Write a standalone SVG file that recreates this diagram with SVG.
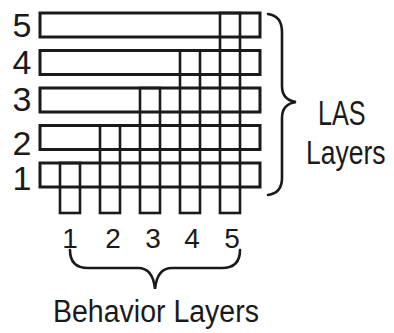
<svg xmlns="http://www.w3.org/2000/svg" width="394" height="333" viewBox="0 0 394 333">
<style>
.b{fill:none;stroke:#1a1a1a;stroke-width:3}
.v{fill:none;stroke:#1a1a1a;stroke-width:2.6}
.br{fill:none;stroke:#1a1a1a;stroke-width:2.6;stroke-linecap:round}
text{font-family:"Liberation Sans",Arial,sans-serif;fill:#1a1a1a}
.d{font-size:34px;text-anchor:middle}
.bd{font-size:28px;text-anchor:middle}
</style>
<rect width="394" height="333" fill="#fff"/>
<g id="las-layers">
<rect class="b" x="40" y="13" width="220" height="24"/>
<rect class="b" x="40" y="50.5" width="220" height="24"/>
<rect class="b" x="40" y="88" width="220" height="24"/>
<rect class="b" x="40" y="125.5" width="220" height="24"/>
<rect class="b" x="40" y="163" width="220" height="24"/>
</g>
<g id="behavior-layers">
<rect class="v" x="60" y="163" width="20" height="50"/>
<rect class="v" x="100" y="125.5" width="20" height="87.5"/>
<rect class="v" x="140" y="88" width="20" height="125"/>
<rect class="v" x="180" y="50.5" width="20" height="162.5"/>
<rect class="v" x="220" y="13" width="20" height="200"/>
</g>
<g id="left-labels">
<text class="d" x="22" y="37">5</text>
<text class="d" x="22" y="74">4</text>
<text class="d" x="22" y="111">3</text>
<text class="d" x="22" y="155">2</text>
<text class="d" x="22" y="190">1</text>
</g>
<g id="bottom-labels">
<text class="bd" x="70" y="248">1</text>
<text class="bd" x="113" y="248">2</text>
<text class="bd" x="153" y="248">3</text>
<text class="bd" x="192" y="248">4</text>
<text class="bd" x="232" y="248">5</text>
</g>
<g id="connectors">
<path class="br" d="M268,14 Q282,16 282,32 L282,86 Q282,100 296,102 Q282,104 282,118 L282,178 Q282,193 268,195"/>
<path class="br" d="M70,250 Q70,268 88,268 L138,268 Q153,268 155,289 Q157,268 172,268 L222,268 Q240,268 240,250"/>
</g>
<g id="las-label">
<text transform="translate(318,125) scale(0.72,1)" font-size="35">LAS</text>
<text transform="translate(306,164) scale(0.78,1)" font-size="34">Layers</text>
</g>
<g id="behavior-label">
<text transform="translate(53,322) scale(0.92,1)" font-size="31">Behavior Layers</text>
</g>
</svg>
